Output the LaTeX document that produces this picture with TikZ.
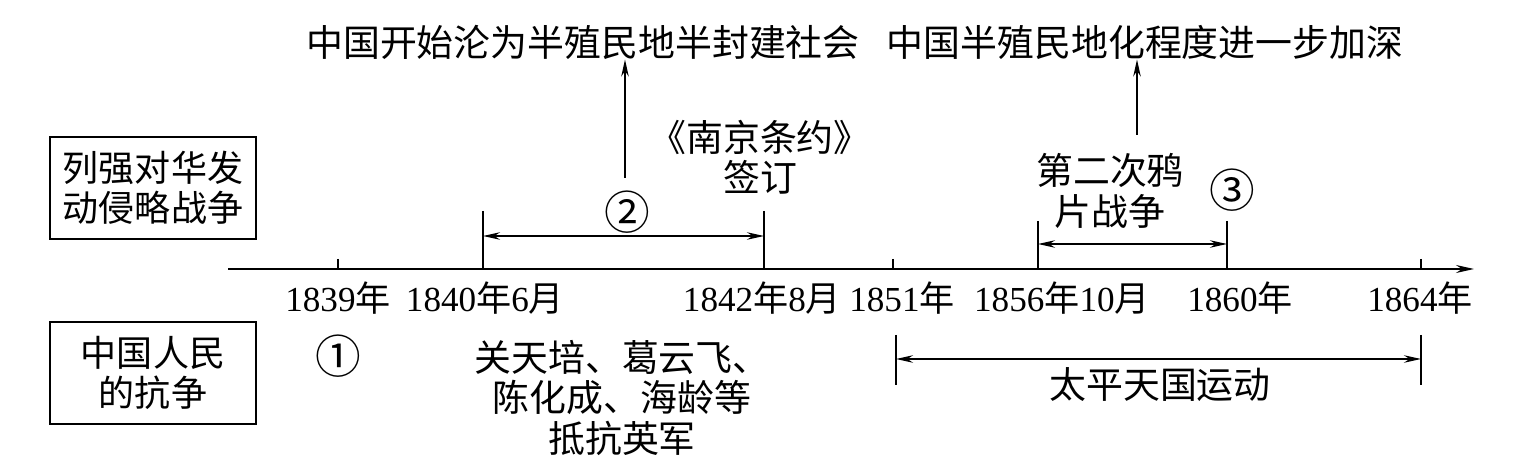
\documentclass[tikz,border=0pt]{standalone}
\usepackage{fontspec}
\setmainfont{Liberation Serif}
\newfontfamily\cjk{Noto Sans CJK SC}
\usetikzlibrary{positioning,arrows.meta}
\tikzset{
  axisline/.style={-{Stealth[length=3.6mm,width=1.6mm]}, line width=0.9pt},
  spanarrow/.style={{Stealth[length=3.4mm,width=1.5mm]}-{Stealth[length=3.4mm,width=1.5mm]}, line width=0.8pt},
  uparrow/.style={-{Stealth[length=3.4mm,width=1.5mm]}, line width=0.8pt},
  tickline/.style={line width=0.8pt},
  sidebox/.style={draw, line width=0.8pt, minimum width=4.12cm, minimum height=2.04cm, align=center, font=\cjk\fontsize{20.5}{23}\selectfont},
  cntext/.style={font=\cjk\fontsize{21}{23}\selectfont, align=center, inner sep=0pt},
  circnum/.style={font=\cjk\fontsize{26}{28}\selectfont, inner sep=0pt},
  yeartext/.style={font=\fontsize{20}{23}\selectfont, inner sep=0pt}
}

\begin{document}
\begin{tikzpicture}[x=0.02cm, y=-0.02cm]
  \useasboundingbox (0,0) rectangle (1525,462);
  % side boxes
  \node[sidebox] (powers) at (153,188) {列强对华发\\动侵略战争};
  \node[sidebox] (people) at (153,373) {中国人民\\的抗争};
  % time axis
  \coordinate (axstart) at (228,269);
  \coordinate (axend) at (1474,269);
  \draw[axisline] (axstart) -- (axend);
  \foreach \x in {338,893,1421} \draw[tickline] (\x,259) -- (\x,269);
  \foreach \x in {483,764} \draw[tickline] (\x,211) -- (\x,269);
  \foreach \x in {1038,1227} \draw[tickline] (\x,221) -- (\x,269);
  % years
  \node[yeartext] (y1839) at (338,298) {1839{\cjk 年}};
  \node[yeartext] (y1840) at (485,298) {1840{\cjk 年}6{\cjk 月}};
  \node[yeartext] (y1842) at (762,298) {1842{\cjk 年}8{\cjk 月}};
  \node[yeartext] (y1851) at (902,298) {1851{\cjk 年}};
  \node[yeartext] (y1856) at (1062,298) {1856{\cjk 年}10{\cjk 月}};
  \node[yeartext] (y1860) at (1240,298) {1860{\cjk 年}};
  \node[yeartext] (y1864) at (1420,298) {1864{\cjk 年}};
  % first opium war
  \coordinate (w1a) at (483,236);
  \coordinate (w1b) at (764,236);
  \draw[spanarrow] (w1a) -- (w1b);
  \node[circnum] (c2) at (627,212) {②};
  \node[cntext] (nanjing) at (760,157) {《南京条约》\\签订};
  \node[cntext] (res1) at (583,42) {中国开始沦为半殖民地半封建社会};
  \coordinate (up1) at (625,178);
  \draw[uparrow] (up1) -- (res1.south -| up1);
  % second opium war
  \coordinate (w2a) at (1038,244);
  \coordinate (w2b) at (1227,244);
  \draw[spanarrow] (w2a) -- (w2b);
  \node[cntext] (opium2) at (1110,191) {第二次鸦\\片战争};
  \node[circnum] (c3) at (1232,190) {③};
  \node[cntext] (res2) at (1145,42) {中国半殖民地化程度进一步加深};
  \coordinate (up2) at (1137,135);
  \draw[uparrow] (up2) -- (res2.south -| up2);
  % resistance
  \node[circnum] (c1) at (338,356) {①};
  \node[cntext] (heroes) at (622,398) {关天培、葛云飞、\\陈化成、海龄等\\抵抗英军};
  \draw[tickline] (896,335) -- (896,385);
  \draw[tickline] (1421,335) -- (1421,385);
  \coordinate (tpa) at (896,359);
  \coordinate (tpb) at (1421,359);
  \draw[spanarrow] (tpa) -- (tpb);
  \node[cntext] (taiping) at (1160,385) {太平天国运动};
\end{tikzpicture}
\end{document}
